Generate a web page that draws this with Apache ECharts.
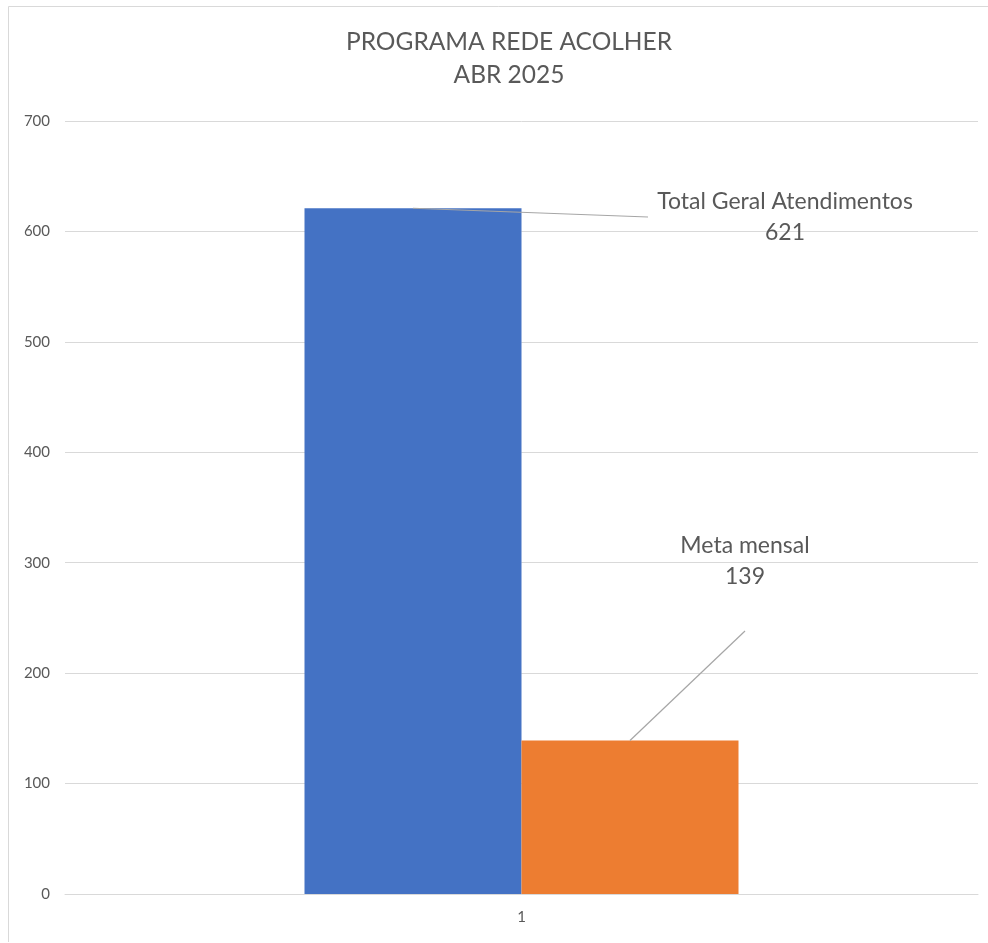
<!DOCTYPE html>
<html>
<head>
<meta charset="utf-8">
<script src="https://cdn.jsdelivr.net/npm/echarts@6/dist/echarts.min.js"></script>
<style>html,body{margin:0;padding:0;background:#fff}#c{width:988px;height:943px}</style>
</head>
<body>
<div id="c"></div>
<script>
const categories = ['1'];
const totalGeral = [621];
const metaMensal = [139];
const seriesNames = ['Total Geral Atendimentos', 'Meta mensal'];
const titleLines = ['PROGRAMA REDE ACOLHER', 'ABR 2025'];

const chart = echarts.init(document.getElementById('c'));
const textColor = '#595959';
const fontFam = 'Lato, "Open Sans", sans-serif';
const leaderStyle = { color: '#a6a6a6', width: 1.2, type: 'solid' };

function leader(cat, val, ex, ey) {
  return {
    silent: true,
    symbol: ['none', 'none'],
    label: { show: false },
    lineStyle: leaderStyle,
    emphasis: { disabled: true },
    data: [[{ coord: [cat, val] }, { x: ex, y: ey }]]
  };
}

function barLabel() {
  return {
    show: true,
    formatter: p => p.seriesName + '\n' + p.value,
    color: textColor, fontSize: 23, lineHeight: 31, fontFamily: fontFam
  };
}

chart.setOption({
  animation: false,
  backgroundColor: '#fff',
  title: {
    text: titleLines.join('\n'),
    left: 504,
    textAlign: 'center',
    top: 21,
    textStyle: { color: textColor, fontSize: 24.5, fontWeight: 'normal', fontFamily: fontFam, lineHeight: 33, align: 'center' }
  },
  graphic: [{
    type: 'polyline',
    shape: { points: [[8.5, 942], [8.5, 6.5], [988, 6.5]] },
    style: { stroke: '#d9d9d9', fill: null, lineWidth: 1 },
    silent: true
  }],
  grid: { left: 65, right: 10, top: 121, bottom: 49 },
  xAxis: {
    type: 'category',
    data: categories,
    axisLine: { show: true, lineStyle: { color: '#d9d9d9' } },
    axisTick: { show: false },
    axisLabel: { color: textColor, fontSize: 15, margin: 16, fontFamily: fontFam }
  },
  yAxis: {
    type: 'value',
    min: 0, max: 700, interval: 100,
    axisLine: { show: false },
    axisTick: { show: false },
    splitLine: { lineStyle: { color: '#d9d9d9' } },
    axisLabel: { color: textColor, fontSize: 15, margin: 15, fontFamily: fontFam }
  },
  series: [
    {
      name: seriesNames[0],
      type: 'bar',
      data: totalGeral,
      barWidth: 217,
      barGap: '0%',
      itemStyle: { color: '#4472C4' },
      label: barLabel(),
      labelLayout: { x: 785, y: 217, align: 'center', verticalAlign: 'middle' },
      markLine: leader(categories[0], totalGeral[0], 648, 217)
    },
    {
      name: seriesNames[1],
      type: 'bar',
      data: metaMensal,
      barWidth: 217,
      barGap: '0%',
      itemStyle: { color: '#ED7D31' },
      label: barLabel(),
      labelLayout: { x: 745, y: 561, align: 'center', verticalAlign: 'middle' },
      markLine: leader(categories[0], metaMensal[0], 745, 631)
    }
  ]
});
</script>
</body>
</html>
